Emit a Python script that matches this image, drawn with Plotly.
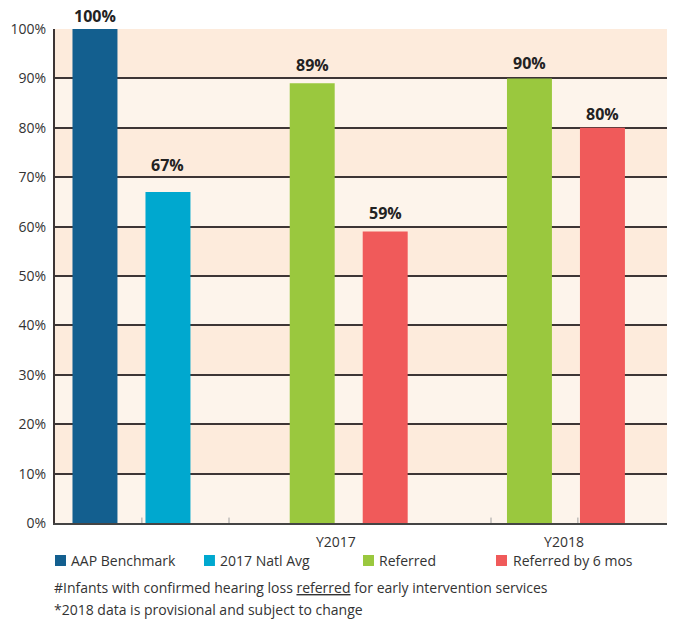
import plotly.graph_objects as go

# ---- data ----
groups = ["", "Y2017", "Y2018"]
group_pos = [0, 1, 2]
series_names = ["AAP Benchmark", "2017 Natl Avg", "Referred", "Referred by 6 mos"]
series_colors = ["#135f8f", "#00a8cf", "#9ac83e", "#f05a5a"]
# values per series across groups (None = no bar)
aap = [100, None, None]
natl = [67, None, None]
referred = [None, 89, 90]
referred6 = [None, 59, 80]
y_ticks = [0, 10, 20, 30, 40, 50, 60, 70, 80, 90, 100]
y_tick_labels = [f"{v}%" for v in y_ticks]
x_tick_labels = ["Y2017", "Y2018"]
footnote1 = "#Infants with confirmed hearing loss <u>referred</u> for early intervention services"
footnote2 = "*2018 data is provisional and subject to change"

# ---- style ----
FONT = "Open Sans"
TXT = "#333333"
off = 0.168   # bar offset from group centre
bw = 0.207    # bar width
# value-label lift above each bar top (px), as laid out in the original
label_lift = {(0, 0): 13, (1, 0): 27, (2, 1): 18, (3, 1): 19, (2, 2): 15, (3, 2): 14}

fig = go.Figure()
annotations = []

def add(si, vals, side):
    xs, ys = [], []
    for p, v in zip(group_pos, vals):
        if v is None:
            continue
        xs.append(p + side * off)
        ys.append(v)
        annotations.append(dict(
            text=f"<b>{v}%</b>", x=p + side * off, y=v, xref="x", yref="y",
            yanchor="middle", xanchor="center", showarrow=False,
            yshift=label_lift[(si, p)],
            font=dict(family=FONT, size=16, color="#222222")))
    fig.add_trace(go.Bar(
        name=series_names[si], x=xs, y=ys, width=bw,
        marker=dict(color=series_colors[si], line=dict(width=0)),
        hoverinfo="skip", showlegend=False,
    ))

add(0, aap, -1)
add(1, natl, +1)
add(2, referred, -1)
add(3, referred6, +1)

# alternating bands
shapes = []
for lo in range(10, 100, 20):
    shapes.append(dict(type="rect", xref="paper", yref="y", x0=0, x1=1, y0=lo, y1=lo + 10,
                       fillcolor="#fdebdc", line=dict(width=0), layer="below"))
# small minor ticks on the x axis
for xv in [0.048, 0.449, 1.655, 2.055]:
    shapes.append(dict(type="line", xref="x", yref="y", x0=xv, x1=xv, y0=0, y1=1.1,
                       line=dict(color="#a0a0a0", width=1), layer="above"))

# custom legend (squares + labels)
leg_sq_x = [0.0, 0.2403, 0.4968, 0.7113]
leg_txt_x = [0.0242, 0.2645, 0.5210, 0.7371]
for name, color, sx, tx in zip(series_names, series_colors, leg_sq_x, leg_txt_x):
    shapes.append(dict(type="rect", xref="paper", yref="paper", x0=sx, x1=sx + 0.0177,
                       y0=-0.0870, y1=-0.0648, fillcolor=color, line=dict(width=0)))
    annotations.append(dict(text=name, xref="paper", yref="paper", x=tx - 0.002, y=-0.0763,
                            xanchor="left", yanchor="middle", showarrow=False,
                            font=dict(family=FONT, size=14, color=TXT)))

annotations += [
    dict(text=footnote1, xref="paper", yref="paper", x=-0.005, y=-0.131, xanchor="left",
         yanchor="middle", showarrow=False, font=dict(family=FONT, size=14, color=TXT)),
    dict(text=footnote2, xref="paper", yref="paper", x=-0.005, y=-0.176, xanchor="left",
         yanchor="middle", showarrow=False, font=dict(family=FONT, size=14, color=TXT)),
]

fig.update_layout(
    width=667, height=611,
    margin=dict(l=47, r=0, t=21, b=96),
    paper_bgcolor="white", plot_bgcolor="#fdf4eb",
    barmode="overlay",
    font=dict(family=FONT, size=14, color=TXT),
    shapes=shapes,
    annotations=annotations,
    showlegend=False,
    xaxis=dict(range=[-0.352, 2.502], tickvals=[0.941, 1.991], ticktext=x_tick_labels,
               showgrid=False, zeroline=False, showline=True, linecolor="#444444", linewidth=2,
               ticks="", ticklabelstandoff=5,
               tickfont=dict(family=FONT, size=14, color=TXT), fixedrange=True),
    yaxis=dict(range=[0, 100], tickvals=y_ticks, ticktext=y_tick_labels,
               showgrid=True, gridcolor="#3d3535", gridwidth=1.5,
               zeroline=False, showline=True, linecolor="#3d3535", linewidth=2,
               ticks="", ticklabelstandoff=4,
               tickfont=dict(family=FONT, size=14, color=TXT)),
)

fig.write_html("out.html")
